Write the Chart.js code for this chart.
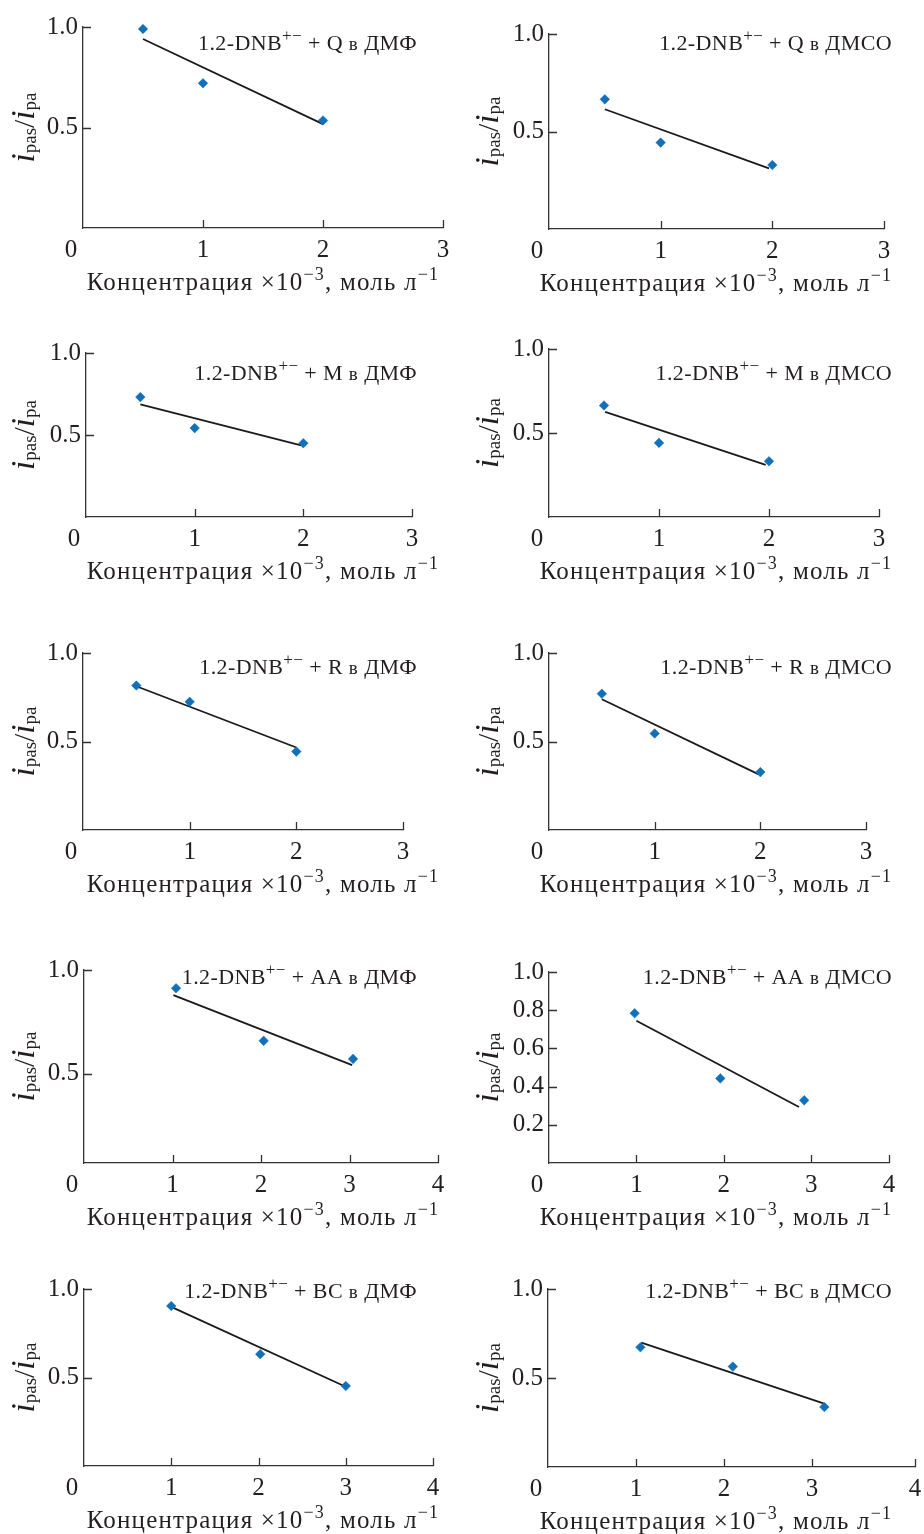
<!DOCTYPE html>
<html>
<head>
<meta charset="utf-8">
<title>ipas/ipa</title>
<script src="https://cdn.jsdelivr.net/npm/chart.js@4.4.0/dist/chart.umd.min.js"></script>
<style>
  body { margin: 0; background: #fff; }
  #page { position: relative; width: 924px; height: 1534px; overflow: hidden; }
  #page canvas { position: absolute; }
</style>
</head>
<body>
<div id="page"></div>
<script>
// panel labels
var reagents = ['Q', 'Q', 'M', 'M', 'R', 'R', 'AA', 'AA', 'BC', 'BC'];
var solvents = ['ДМФ', 'ДМСО', 'ДМФ', 'ДМСО', 'ДМФ', 'ДМСО', 'ДМФ', 'ДМСО', 'ДМФ', 'ДМСО'];

// measured points (concentration x10^-3 mol/l, ipas/ipa)
var concentration = [
    [0.5, 1.0, 2.0], [0.5, 1.0, 2.0],
    [0.5, 1.0, 2.0], [0.5, 1.0, 2.0],
    [0.5, 1.0, 2.0], [0.5, 1.0, 2.0],
    [1.04, 2.03, 3.04], [0.98, 1.96, 2.92],
    [1.0, 2.02, 3.0], [1.05, 2.10, 3.14]
];
var ratio = [
    [0.99, 0.72, 0.535], [0.665, 0.443, 0.328],
    [0.731, 0.542, 0.450], [0.664, 0.441, 0.332],
    [0.816, 0.724, 0.443], [0.770, 0.545, 0.327],
    [0.912, 0.659, 0.572], [0.784, 0.443, 0.328],
    [0.904, 0.632, 0.452], [0.673, 0.564, 0.337]
];

// fitted lines (start and end)
var fitConc = [
    [0.5, 2.0], [0.5, 1.97],
    [0.5, 1.98], [0.51, 1.97],
    [0.5, 2.0], [0.5, 1.98],
    [1.01, 3.03], [1.0, 2.86],
    [1.0, 3.0], [1.06, 3.13]
];
var fitRatio = [
    [0.94, 0.517], [0.614, 0.311],
    [0.687, 0.436], [0.626, 0.310],
    [0.812, 0.466], [0.739, 0.316],
    [0.879, 0.542], [0.745, 0.293],
    [0.899, 0.448], [0.699, 0.357]
];

// axes
var xMax = [3, 3, 3, 3, 3, 3, 4, 3.89, 4, 4.17];
var yMin = [0, 0, 0, 0, 0, 0, 0.071, 0, 0, 0];
var yTicksShort = [0.5, 1.0];
var yTicksLong = [0.2, 0.4, 0.6, 0.8, 1.0];

// layout: plot area of each panel on the page [left, top, right, bottom]
var boxes = [
    [83, 27, 443, 228], [549, 34, 884, 229],
    [86, 353, 412, 517], [549, 349, 879, 517],
    [83, 653, 403, 830], [549, 653, 866, 830],
    [84, 970, 438, 1163], [549, 972, 889, 1163],
    [84, 1289, 433, 1466], [548, 1289, 915, 1467]
];
var rows = [[0, 300], [320, 605], [620, 910], [940, 1240], [1258, 1534]];
var noteBase = [49.5, 380, 673.5, 983.5, 1298];
var cols = [[0, 462], [462, 924]];

var FONT = '"Liberation Serif", "Times New Roman", serif';
var ink = '#231f20';
var markerColor = '#1170b8';

function setFont(ctx, size, style) {
    ctx.font = (style ? style + ' ' : '') + size + 'px ' + FONT;
}

// runs: [text, size, dy, style]
function richText(ctx, runs, x, y, align, spacing) {
    ctx.letterSpacing = (spacing || 0) + 'px';
    var w = 0;
    runs.forEach(function(r) {
        setFont(ctx, r[1], r[3]);
        w += ctx.measureText(r[0]).width;
    });
    var cx = x;
    if (align === 'center') cx = x - w / 2;
    if (align === 'right') cx = x - w;
    ctx.textAlign = 'left';
    ctx.textBaseline = 'alphabetic';
    runs.forEach(function(r) {
        setFont(ctx, r[1], r[3]);
        ctx.fillText(r[0], cx, y + r[2]);
        cx += ctx.measureText(r[0]).width;
    });
    ctx.letterSpacing = '0px';
}

function makeDecor(i, canvasLeft, canvasTop, col, row) {
    return {
        id: 'decor' + i,
        afterDraw: function(chart) {
            var ctx = chart.ctx;
            var xs = chart.scales.x, ys = chart.scales.y;
            var area = chart.chartArea;
            ctx.save();
            ctx.strokeStyle = '#333';
            ctx.lineWidth = 1.3;
            ctx.beginPath();
            ys.ticks.forEach(function(t) {
                var py = Math.round(ys.getPixelForValue(t.value)) + 0.5;
                ctx.moveTo(area.left, py);
                ctx.lineTo(area.left + 8, py);
            });
            xs.ticks.forEach(function(t) {
                if (t.value === 0) return;
                var px = Math.round(xs.getPixelForValue(t.value)) + 0.5;
                ctx.moveTo(px, area.bottom);
                ctx.lineTo(px, area.bottom - 8);
            });
            ctx.stroke();

            ctx.fillStyle = ink;
            // x tick labels
            setFont(ctx, 25);
            ctx.textAlign = 'center';
            ctx.textBaseline = 'alphabetic';
            xs.ticks.forEach(function(t) {
                var px = xs.getPixelForValue(t.value);
                if (t.value === 0) px -= 12;
                ctx.fillText(String(Math.round(t.value)), px, area.bottom + 29);
            });

            // x axis title
            var tx = (col === 0 ? 263 : 716) - canvasLeft;
            richText(ctx, [
                ['Концентрация ×10', 25, 0],
                ['−3', 18, -10],
                [', моль л', 25, 0],
                ['−1', 18, -10]
            ], tx, area.bottom + 61.5, 'center', 1.2);

            // y axis title
            ctx.save();
            ctx.translate((col === 0 ? 34 : 498) - canvasLeft, (area.top + area.bottom) / 2);
            ctx.rotate(-Math.PI / 2);
            richText(ctx, [
                ['i', 33, 0, 'italic'],
                ['pas', 19, 2],
                ['/', 30, 0],
                ['i', 33, 0, 'italic'],
                ['pa', 19, 2]
            ], 0, 0, 'center', 0);
            ctx.restore();

            // panel note
            var nx = (col === 0 ? 417 : 892) - canvasLeft;
            var ny = noteBase[row] - canvasTop;
            richText(ctx, [
                ['1.2-DNB', 22, 0],
                ['+−', 17, -9],
                [' + ' + reagents[i] + ' ', 22, 0],
                ['в', 19, 0],
                [' ' + solvents[i], 22, 0]
            ], nx, ny, 'right', 0.4);
            ctx.restore();
        }
    };
}

var page = document.getElementById('page');

for (var i = 0; i < 10; i++) {
    (function(i) {
        var col = i % 2, row = Math.floor(i / 2);
        var cl = cols[col][0], cw = cols[col][1] - cols[col][0];
        var ct = rows[row][0], ch = rows[row][1] - rows[row][0];
        var b = boxes[i];

        var canvas = document.createElement('canvas');
        canvas.width = cw;
        canvas.height = ch;
        canvas.style.left = cl + 'px';
        canvas.style.top = ct + 'px';
        canvas.style.width = cw + 'px';
        canvas.style.height = ch + 'px';
        page.appendChild(canvas);

        var points = concentration[i].map(function(x, k) { return { x: x, y: ratio[i][k] }; });
        var fit = fitConc[i].map(function(x, k) { return { x: x, y: fitRatio[i][k] }; });

        var xTicks = [0, 1, 2, 3];
        if (xMax[i] > 3.5) xTicks.push(xMax[i]);
        var yTicks = i === 7 ? yTicksLong : yTicksShort;

        new Chart(canvas, {
            type: 'scatter',
            data: {
                datasets: [{
                    data: points,
                    showLine: false,
                    pointStyle: 'rectRot',
                    pointRadius: 4.8,
                    pointBackgroundColor: markerColor,
                    pointBorderColor: markerColor,
                    pointBorderWidth: 0.5,
                    clip: false
                }, {
                    data: fit,
                    showLine: true,
                    pointRadius: 0,
                    borderColor: '#1a1a1a',
                    borderWidth: 1.8,
                    fill: false,
                    clip: false
                }]
            },
            options: {
                responsive: false,
                animation: false,
                devicePixelRatio: 1,
                layout: {
                    padding: { top: b[1] - ct, right: cl + cw - b[2], left: 0, bottom: 0 }
                },
                plugins: {
                    legend: { display: false },
                    tooltip: { enabled: false }
                },
                scales: {
                    x: {
                        type: 'linear',
                        min: 0,
                        max: xMax[i],
                        grid: { display: false, drawTicks: false },
                        border: { display: true, color: '#333', width: 1.3 },
                        ticks: { display: false },
                        afterBuildTicks: function(s) {
                            s.ticks = xTicks.map(function(v) { return { value: v }; });
                        },
                        afterFit: function(s) { s.height = ct + ch - b[3]; }
                    },
                    y: {
                        type: 'linear',
                        min: yMin[i],
                        max: 1,
                        grid: { display: false, drawTicks: false },
                        border: { display: true, color: '#333', width: 1.3 },
                        ticks: {
                            color: ink,
                            padding: 5,
                            font: { family: FONT, size: 25 },
                            callback: function(v) { return Number(v).toFixed(1); }
                        },
                        afterBuildTicks: function(s) {
                            s.ticks = yTicks.map(function(v) { return { value: v }; });
                        },
                        afterFit: function(s) { s.width = b[0] - cl; }
                    }
                }
            },
            plugins: [makeDecor(i, cl, ct, col, row)]
        });
    })(i);
}
</script>
</body>
</html>
